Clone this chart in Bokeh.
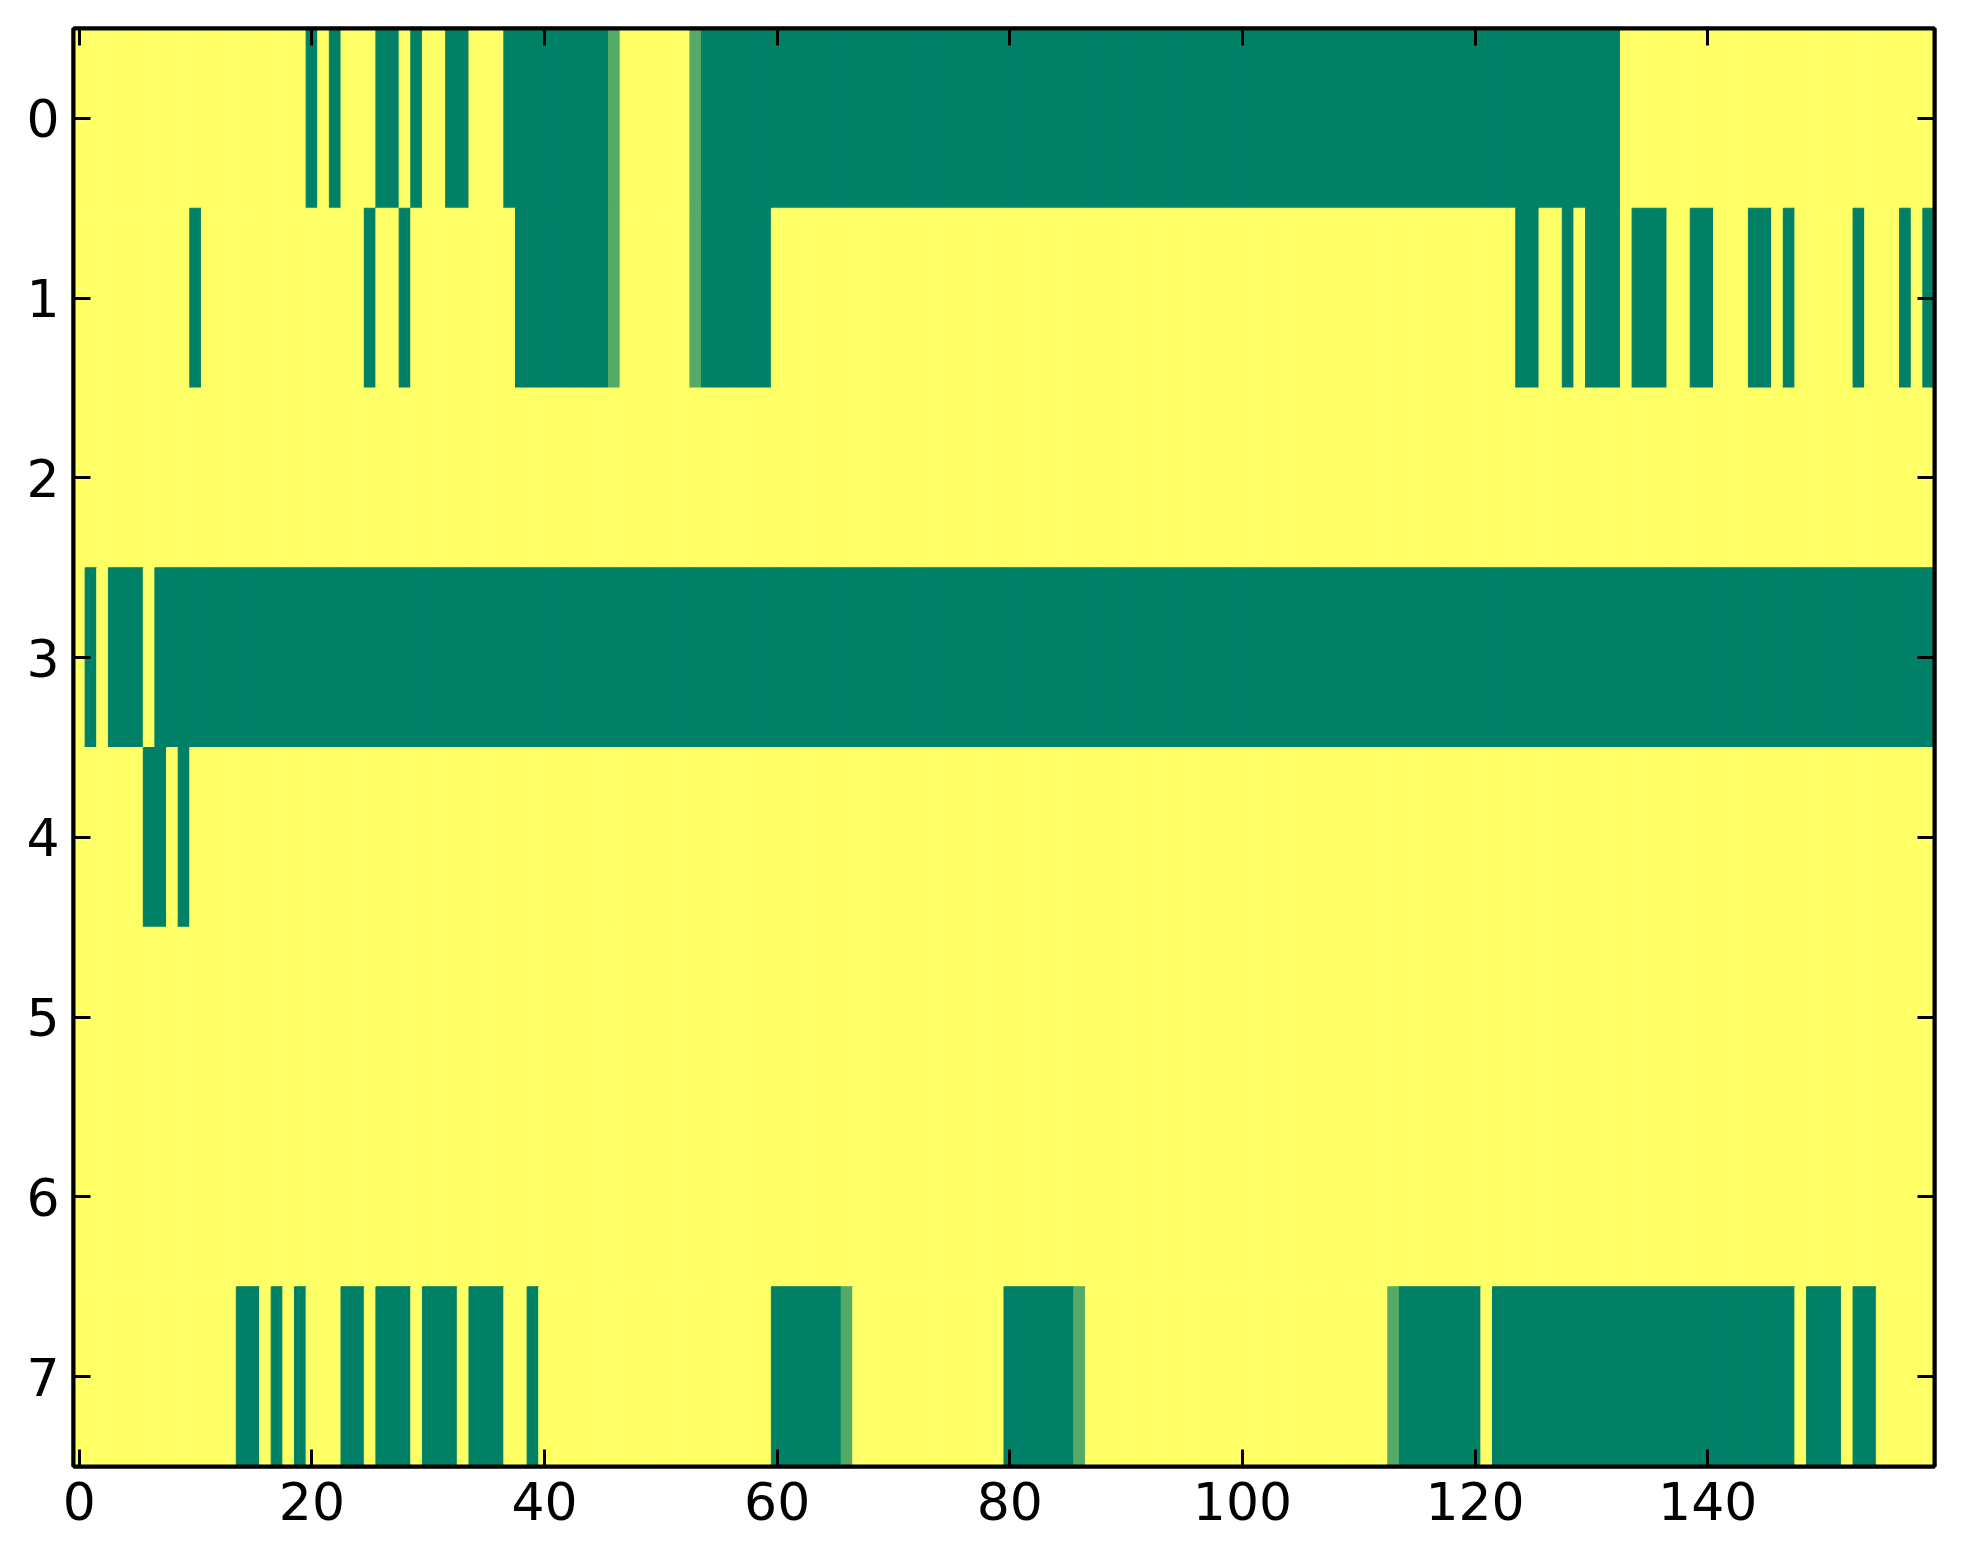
import numpy as np
from bokeh.plotting import figure
from bokeh.models import Range1d, FixedTicker, LinearColorMapper, LinearAxis, ColumnDataSource
from bokeh.embed import file_html
from bokeh.resources import INLINE

# ---- data: 8 rows x 160 columns, value 1 (yellow) by default ----
n_rows = 8
n_cols = 160
# green cells (value 0), as inclusive column runs per row
green_runs = {
    0: [(20, 20), (22, 22), (26, 27), (29, 29), (32, 33), (37, 45), (54, 132)],
    1: [(10, 10), (25, 25), (28, 28), (38, 45), (54, 59), (124, 125), (128, 128),
        (130, 132), (134, 136), (139, 140), (144, 145), (147, 147), (153, 153),
        (157, 157), (159, 159)],
    2: [],
    3: [(1, 1), (3, 5), (7, 159)],
    4: [(6, 7), (9, 9)],
    5: [],
    6: [],
    7: [(14, 15), (17, 17), (19, 19), (23, 24), (26, 28), (30, 32), (34, 36),
        (39, 39), (60, 65), (80, 85), (114, 120), (122, 147), (149, 151), (153, 154)],
}
# intermediate cells (value about 0.33)
mid_cells = {
    0: [46, 53],
    1: [46, 53],
    7: [66, 86, 113],
}
mid_value = 0.33
x_ticks = [0, 20, 40, 60, 80, 100, 120, 140]
y_ticks = [0, 1, 2, 3, 4, 5, 6, 7]

grid = np.ones((n_rows, n_cols))
for r, runs in green_runs.items():
    for a, b in runs:
        grid[r, a:b + 1] = 0.0
for r, cols in mid_cells.items():
    for c in cols:
        grid[r, c] = mid_value

xs, ys, vs = [], [], []
for r in range(n_rows):
    for c in range(n_cols):
        xs.append(c)
        ys.append(r)
        vs.append(float(grid[r, c]))
src = ColumnDataSource(dict(x=xs, y=ys, v=vs))

# matplotlib "summer" colormap
summer = []
for i in range(256):
    t = i / 255.0
    rr, gg, bb = t, 0.5 + t / 2.0, 0.4
    summer.append("#%02x%02x%02x" % (int(round(rr * 255)), int(round(gg * 255)), int(round(bb * 255))))
mapper = LinearColorMapper(palette=summer, low=0, high=1)

p = figure(width=1947, height=1548,
           x_range=Range1d(-0.5, 159.5), y_range=Range1d(7.5, -0.5),
           min_border_left=73, min_border_right=13, min_border_top=28, min_border_bottom=82,
           output_backend="svg", toolbar_location=None,
           x_axis_location=None, y_axis_location=None)

p.rect(x="x", y="y", width=1, height=1, source=src,
       fill_color={"field": "v", "transform": mapper},
       line_color={"field": "v", "transform": mapper}, line_width=1)

p.xgrid.visible = False
p.ygrid.visible = False
p.background_fill_color = "white"
p.border_fill_color = "white"
p.outline_line_color = "black"
p.outline_line_width = 4

font = "DejaVu Sans"
fsize = "52px"

def style(ax, labels, standoff):
    ax.axis_line_color = "black"
    ax.axis_line_width = 4
    ax.major_tick_in = 17
    ax.major_tick_out = 0
    ax.major_tick_line_width = 3
    ax.minor_tick_line_color = None
    ax.major_label_text_font = font
    ax.major_label_text_color = "black"
    ax.major_label_standoff = standoff
    if labels:
        ax.major_label_text_font_size = fsize
    else:
        ax.major_label_text_font_size = "0px"
        ax.major_label_text_alpha = 0

xb = LinearAxis(ticker=FixedTicker(ticks=x_ticks))
style(xb, True, 15)
p.add_layout(xb, "below")
xa = LinearAxis(ticker=FixedTicker(ticks=x_ticks))
style(xa, False, 0)
p.add_layout(xa, "above")
yl = LinearAxis(ticker=FixedTicker(ticks=y_ticks))
style(yl, True, 14)
p.add_layout(yl, "left")
yr = LinearAxis(ticker=FixedTicker(ticks=y_ticks))
style(yr, False, 0)
p.add_layout(yr, "right")

open("out.html", "w").write(file_html(p, INLINE))
